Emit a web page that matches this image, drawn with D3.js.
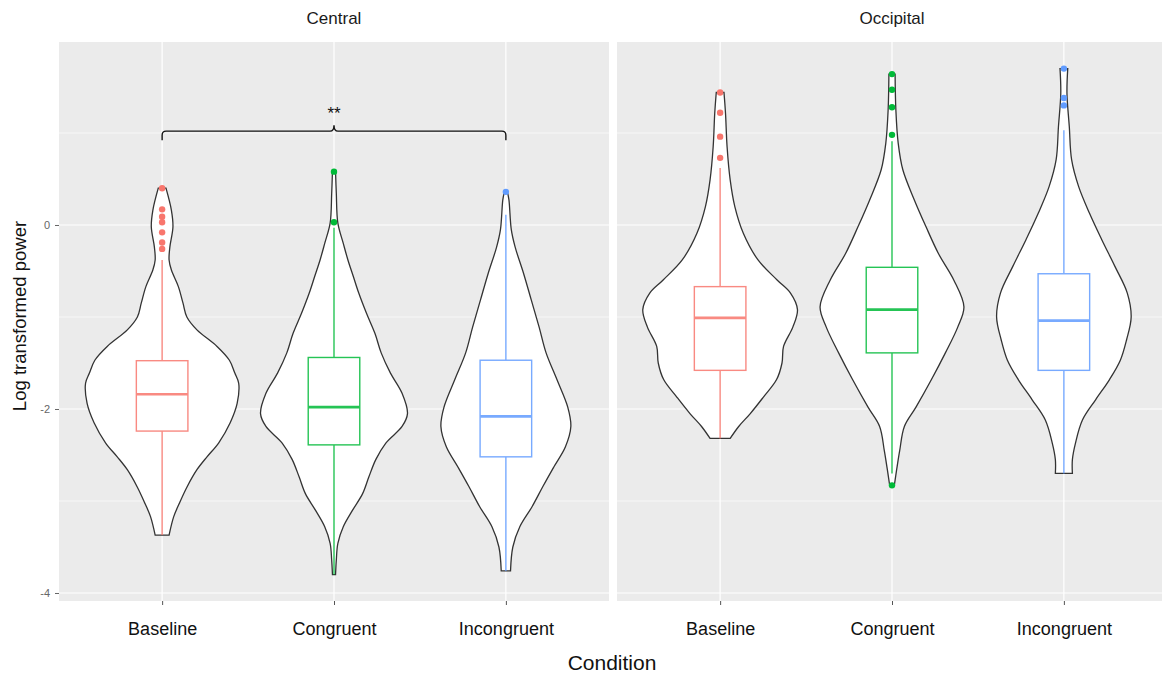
<!DOCTYPE html>
<html>
<head>
<meta charset="utf-8">
<script src="https://cdn.jsdelivr.net/npm/d3@7"></script>
<style>
  html, body { margin: 0; padding: 0; background: #ffffff; }
  svg { display: block; font-family: "Liberation Sans", Arial, Helvetica, sans-serif; }
</style>
</head>
<body>
<svg id="chart" width="1162" height="675"></svg>
<script>
// ---------------- DATA ----------------
const facets = ["Central", "Occipital"];
const conditions = ["Baseline", "Congruent", "Incongruent"];
const colors = ["#F8766D", "#00BA38", "#619CFF"];
const yTickValues = [-4, -2, 0];
const yTickLabels = ["-4", "-2", "0"];
const yMinorValues = [-3, -1, 1];

// violin profiles: [log power, relative density]
const centralBaselineViolin = [
  [0.40, 0.05], [0.16, 0.12], [-0.02, 0.14], [-0.24, 0.10], [-0.38, 0.09], [-0.49, 0.12],
  [-0.67, 0.21], [-0.85, 0.27], [-1.00, 0.32], [-1.14, 0.45], [-1.32, 0.71], [-1.47, 0.87],
  [-1.61, 0.94], [-1.72, 0.99], [-1.94, 0.97], [-2.15, 0.88], [-2.37, 0.73], [-2.52, 0.58],
  [-2.66, 0.45], [-2.85, 0.32], [-3.03, 0.22], [-3.17, 0.15], [-3.37, 0.09]
];
const centralCongruentViolin = [
  [0.58, 0.02], [0.34, 0.03], [0.02, 0.05], [-0.20, 0.12], [-0.38, 0.18], [-0.56, 0.25],
  [-0.74, 0.32], [-0.96, 0.42], [-1.18, 0.53], [-1.39, 0.61], [-1.61, 0.73], [-1.83, 0.88],
  [-2.05, 0.95], [-2.19, 0.88], [-2.37, 0.67], [-2.55, 0.54], [-2.74, 0.45], [-2.92, 0.37],
  [-3.10, 0.24], [-3.28, 0.12], [-3.46, 0.05], [-3.64, 0.03], [-3.80, 0.02]
];
const centralIncongruentViolin = [
  [0.36, 0.02], [0.27, 0.04], [-0.05, 0.07], [-0.24, 0.12], [-0.53, 0.23], [-0.82, 0.33],
  [-1.11, 0.43], [-1.39, 0.52], [-1.68, 0.66], [-1.98, 0.80], [-2.19, 0.84], [-2.41, 0.77],
  [-2.63, 0.62], [-2.84, 0.48], [-3.06, 0.34], [-3.28, 0.18], [-3.50, 0.09], [-3.76, 0.06]
];
const occipitalBaselineViolin = [
  [1.44, 0.05], [1.21, 0.07], [0.85, 0.09], [0.49, 0.13], [0.20, 0.19], [-0.09, 0.30],
  [-0.38, 0.49], [-0.60, 0.74], [-0.74, 0.91], [-0.92, 1.00], [-1.11, 0.94], [-1.32, 0.82],
  [-1.50, 0.80], [-1.68, 0.73], [-1.87, 0.56], [-2.05, 0.39], [-2.19, 0.24], [-2.32, 0.13]
];
const occipitalCongruentViolin = [
  [1.64, 0.04], [1.25, 0.05], [0.89, 0.08], [0.60, 0.14], [0.27, 0.29], [-0.02, 0.44],
  [-0.31, 0.60], [-0.60, 0.80], [-0.89, 0.93], [-1.11, 0.85], [-1.39, 0.69], [-1.68, 0.51],
  [-1.98, 0.31], [-2.19, 0.16], [-2.45, 0.10], [-2.66, 0.06], [-2.83, 0.03]
];
const occipitalIncongruentViolin = [
  [1.70, 0.05], [1.43, 0.04], [1.07, 0.07], [0.71, 0.10], [0.42, 0.19], [0.13, 0.33],
  [-0.16, 0.49], [-0.45, 0.66], [-0.74, 0.82], [-1.00, 0.87], [-1.25, 0.81], [-1.47, 0.73],
  [-1.68, 0.59], [-1.90, 0.41], [-2.12, 0.24], [-2.37, 0.15], [-2.55, 0.11], [-2.70, 0.11]
];

// box stats per condition: [lower whisker, Q1, median, Q3, upper whisker]
const centralBoxStats = [
  [-3.37, -2.24, -1.84, -1.475, -0.38],
  [-3.80, -2.39, -1.98, -1.44, -0.03],
  [-3.76, -2.52, -2.08, -1.47, 0.11]
];
const occipitalBoxStats = [
  [-2.32, -1.58, -1.01, -0.67, 0.62],
  [-2.70, -1.39, -0.92, -0.46, 0.91],
  [-2.70, -1.58, -1.04, -0.53, 1.03]
];

// outliers per condition
const centralOutliers = [
  [0.40, 0.17, 0.09, 0.03, -0.08, -0.19, -0.26],
  [0.58, 0.03],
  [0.36]
];
const occipitalOutliers = [
  [1.44, 1.22, 0.96, 0.73],
  [1.64, 1.47, 1.28, 0.98, -2.83],
  [1.70, 1.38, 1.30]
];

// significance bracket in Central panel
const bracketFrom = "Baseline";
const bracketTo = "Incongruent";
const bracketLevel = 1.02;
const bracketLabel = "**";

const facetViolins = [
  [centralBaselineViolin, centralCongruentViolin, centralIncongruentViolin],
  [occipitalBaselineViolin, occipitalCongruentViolin, occipitalIncongruentViolin]
];
const facetStats = [centralBoxStats, occipitalBoxStats];
const facetOutliers = [centralOutliers, occipitalOutliers];

// ---------------- LAYOUT ----------------
const svg = d3.select("#chart");
const panelTop = 42, panelBottom = 601;
const panelWidth = 550;
const panelLefts = [59, 617];

const y = d3.scaleLinear().domain([-4.087, 1.989]).range([panelBottom, panelTop]);

const violinArea = (xc, halfW) => d3.area()
  .curve(d3.curveCatmullRom.alpha(0.5))
  .y(d => y(d[0]))
  .x0(d => xc - halfW(d[1]))
  .x1(d => xc + halfW(d[1]));

facets.forEach((facet, fi) => {
  const left = panelLefts[fi];
  const x = d3.scalePoint().domain(conditions).range([left, left + panelWidth]).padding(0.6);
  const step = x.step();
  const halfW = d3.scaleLinear().domain([0, 1]).range([0, 0.45 * step]);
  const boxHalf = 0.15 * step;

  const g = svg.append("g");
  // panel background
  g.append("rect").attr("x", left).attr("y", panelTop)
    .attr("width", panelWidth).attr("height", panelBottom - panelTop)
    .attr("fill", "#EBEBEB");

  // minor gridlines
  g.selectAll(".minor").data(yMinorValues).join("line")
    .attr("x1", left).attr("x2", left + panelWidth)
    .attr("y1", d => y(d)).attr("y2", d => y(d))
    .attr("stroke", "#ffffff").attr("stroke-width", 0.6);
  // major gridlines
  g.selectAll(".major").data(yTickValues).join("line")
    .attr("x1", left).attr("x2", left + panelWidth)
    .attr("y1", d => y(d)).attr("y2", d => y(d))
    .attr("stroke", "#ffffff").attr("stroke-width", 1.2);
  g.selectAll(".vmajor").data(conditions).join("line")
    .attr("x1", d => x(d)).attr("x2", d => x(d))
    .attr("y1", panelTop).attr("y2", panelBottom)
    .attr("stroke", "#ffffff").attr("stroke-width", 1.2);

  // violins
  conditions.forEach((c, ci) => {
    g.append("path")
      .datum(facetViolins[fi][ci])
      .attr("d", violinArea(x(c), halfW))
      .attr("fill", "#ffffff")
      .attr("stroke", "#333333")
      .attr("stroke-width", 1.3);
  });

  // boxplots
  conditions.forEach((c, ci) => {
    const s = facetStats[fi][ci];
    const xc = x(c);
    const col = colors[ci];
    const bg = g.append("g").attr("opacity", 0.85);
    bg.append("line").attr("x1", xc).attr("x2", xc)
      .attr("y1", y(s[3])).attr("y2", y(s[4])).attr("stroke", col).attr("stroke-width", 1.4);
    bg.append("line").attr("x1", xc).attr("x2", xc)
      .attr("y1", y(s[1])).attr("y2", y(s[0])).attr("stroke", col).attr("stroke-width", 1.4);
    bg.append("rect").attr("x", xc - boxHalf).attr("width", 2 * boxHalf)
      .attr("y", y(s[3])).attr("height", y(s[1]) - y(s[3]))
      .attr("fill", "#ffffff").attr("stroke", col).attr("stroke-width", 1.4);
    bg.append("line").attr("x1", xc - boxHalf).attr("x2", xc + boxHalf)
      .attr("y1", y(s[2])).attr("y2", y(s[2])).attr("stroke", col).attr("stroke-width", 2.6);
    g.selectAll(null).data(facetOutliers[fi][ci]).join("circle")
      .attr("cx", xc).attr("cy", d => y(d)).attr("r", 3.2)
      .attr("fill", col);
  });

  // bracket annotation (Central only)
  if (fi === 0) {
    const x1 = x(bracketFrom), x2 = x(bracketTo), yb = y(bracketLevel);
    const xm = (x1 + x2) / 2;
    const r = 4;
    const path = d3.path();
    path.moveTo(x1, yb + 9);
    path.lineTo(x1, yb + r);
    path.quadraticCurveTo(x1, yb, x1 + r, yb);
    path.lineTo(xm - r, yb);
    path.quadraticCurveTo(xm, yb, xm, yb - 6);
    path.quadraticCurveTo(xm, yb, xm + r, yb);
    path.lineTo(x2 - r, yb);
    path.quadraticCurveTo(x2, yb, x2, yb + r);
    path.lineTo(x2, yb + 9);
    g.append("path").attr("d", path.toString())
      .attr("fill", "none").attr("stroke", "#111111").attr("stroke-width", 1.4);
    g.append("text").attr("x", xm).attr("y", yb - 12)
      .attr("text-anchor", "middle").attr("font-size", 17).attr("fill", "#111111")
      .text(bracketLabel);
  }

  // strip label
  g.append("text").attr("x", left + panelWidth / 2).attr("y", 24)
    .attr("text-anchor", "middle").attr("font-size", 17).attr("fill", "#1a1a1a")
    .text(facet);

  // x axis
  const xAxis = g.append("g").attr("transform", `translate(0,${panelBottom})`)
    .call(d3.axisBottom(x).tickSize(4).tickPadding(17));
  xAxis.select(".domain").remove();
  xAxis.selectAll(".tick line").attr("stroke", "#555555").attr("stroke-width", 1);
  xAxis.selectAll(".tick text").attr("font-size", 18).attr("fill", "#111111")
    .attr("font-family", "Liberation Sans, Arial, sans-serif");

  // y axis on the first panel only
  if (fi === 0) {
    const yAxis = g.append("g").attr("transform", `translate(${left},0)`)
      .call(d3.axisLeft(y).tickValues(yTickValues).tickSize(4).tickPadding(5)
        .tickFormat((d, i) => yTickLabels[i]));
    yAxis.select(".domain").remove();
    yAxis.selectAll(".tick line").attr("stroke", "#666666");
    yAxis.selectAll(".tick text").attr("font-size", 11).attr("fill", "#666666")
      .attr("font-family", "Liberation Sans, Arial, sans-serif");
  }
});

// axis titles
svg.append("text").attr("x", 612).attr("y", 670)
  .attr("text-anchor", "middle").attr("font-size", 21).attr("fill", "#111111")
  .text("Condition");
svg.append("text").attr("transform", `translate(26,316) rotate(-90)`)
  .attr("text-anchor", "middle").attr("font-size", 18.5).attr("fill", "#111111")
  .text("Log transformed power");
</script>
</body>
</html>
